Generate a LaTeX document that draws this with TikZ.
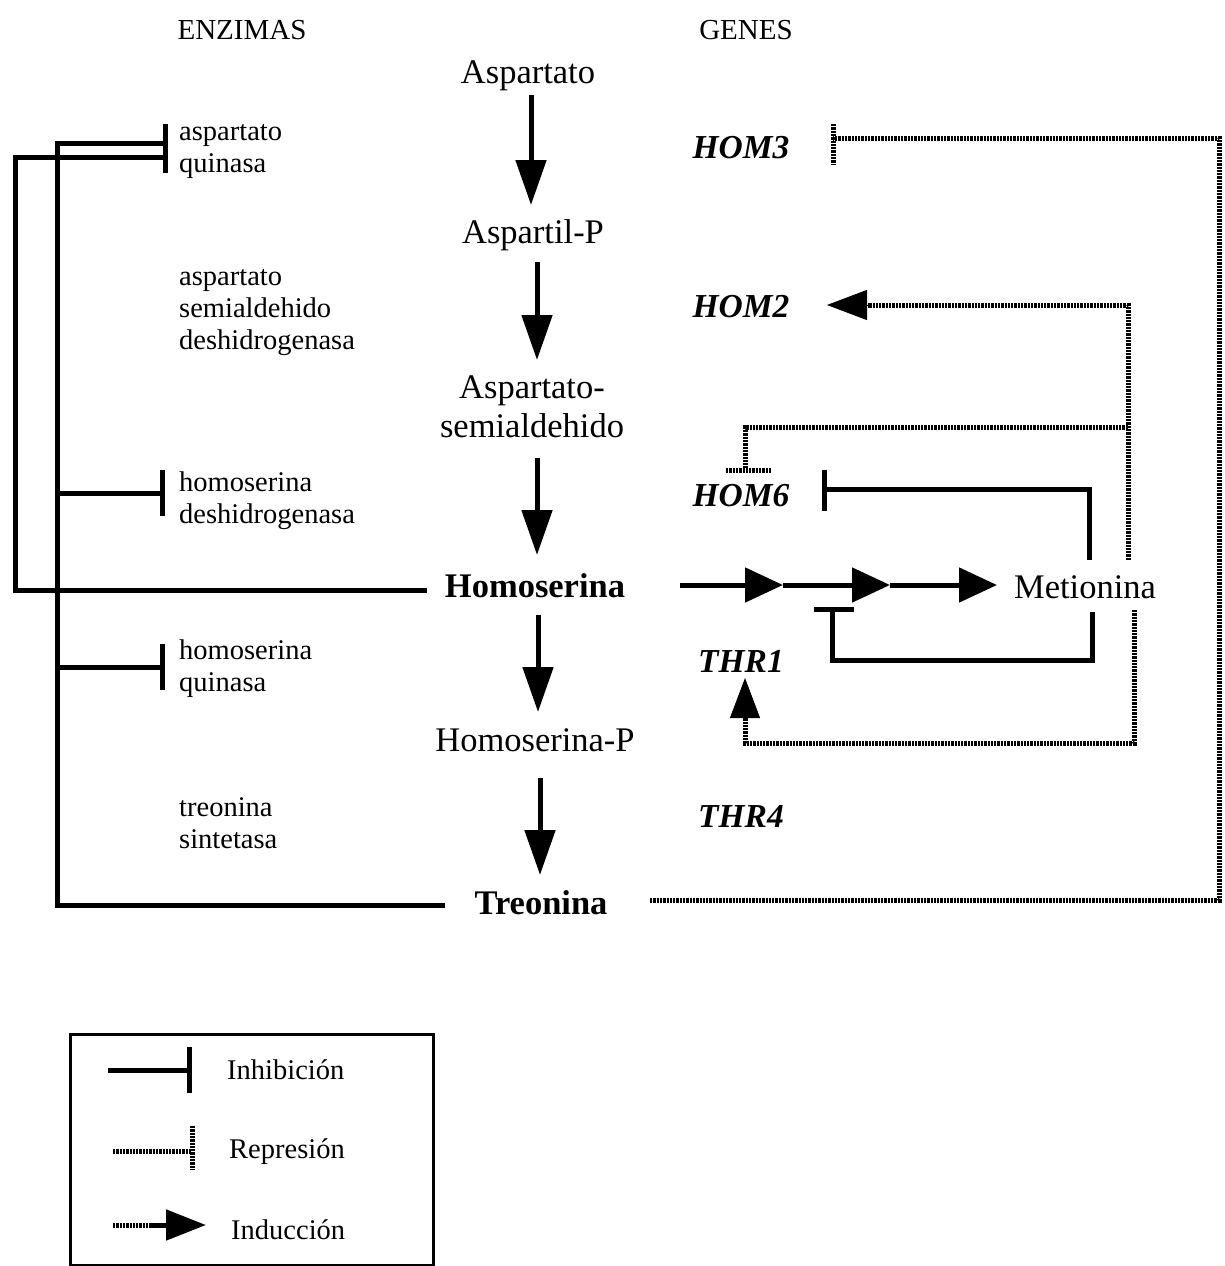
\documentclass[tikz,border=0pt]{standalone}
\usepackage{fontspec}
\setmainfont{Liberation Serif}
\usetikzlibrary{arrows.meta}
\begin{document}
\begin{tikzpicture}[x=1pt,y=-1pt,
  solid5/.style={line width=5pt},
  inhtip/.style={line width=5pt,-{Bar[width=46pt]}},
  rep/.style={line width=5pt,dash pattern=on 2.3pt off 1pt},
  flow/.style={line width=5pt,-{Triangle[length=45pt,width=30pt]}},
  chain/.style={line width=5pt,-{Triangle[length=38pt,width=34pt]}},
  indhead/.style={line width=1pt,-{Triangle[length=40pt,width=30pt]}},
  big/.style={font=\fontsize{34.5}{39}\selectfont,inner sep=0pt},
  bigb/.style={font=\fontsize{34.5}{39}\selectfont\bfseries,inner sep=0pt},
  gene/.style={font=\fontsize{33.5}{39}\selectfont\bfseries\itshape,inner sep=0pt},
  enz/.style={font=\fontsize{28.5}{32}\selectfont,inner sep=0pt,anchor=west,align=left},
  head/.style={font=\fontsize{29}{32}\selectfont,inner sep=0pt},
  leg/.style={font=\fontsize{28.5}{32}\selectfont,inner sep=0pt,anchor=west}]
\useasboundingbox (0,0) rectangle (1225,1266);

% headers
\node[head] (henz) at (242,30) {ENZIMAS};
\node[head] (hgen) at (746,30) {GENES};

% metabolites
\node[big] (asp) at (528,76) {Aspartato};
\node[big] (aspp) at (533,235) {Aspartil-P};
\node[big,align=center] (asa) at (532,407) {Aspartato-\\semialdehido};
\node[bigb] (hse) at (535,586) {Homoserina};
\node[big] (hsp) at (535,740) {Homoserina-P};
\node[bigb] (thr) at (541,903) {Treonina};
\node[big] (met) at (1085,587) {Metionina};

% enzymes
\node[enz] (e1) at (179,152) {aspartato\\quinasa};
\node[enz] (e2) at (179,313) {aspartato\\semialdehido\\deshidrogenasa};
\node[enz] (e3) at (179,501) {homoserina\\deshidrogenasa};
\node[enz] (e4) at (179,669) {homoserina\\quinasa};
\node[enz] (e5) at (179,823) {treonina\\sintetasa};

% genes
\node[gene] (hom3) at (741,148) {HOM3};
\node[gene] (hom2) at (741,307) {HOM2};
\node[gene] (hom6) at (741,496) {HOM6};
\node[gene] (thr1) at (741,661) {THR1};
\node[gene] (thr4) at (741,816) {THR4};

% main pathway arrows
\coordinate (v1a) at (531,95);  \coordinate (v1b) at (531,205);
\coordinate (v2a) at (537,262); \coordinate (v2b) at (537,360);
\coordinate (v3a) at (537,458); \coordinate (v3b) at (537,555);
\coordinate (v4a) at (538,615); \coordinate (v4b) at (538,712);
\coordinate (v5a) at (540,778); \coordinate (v5b) at (540,875);
\draw[flow] (v1a) -- (v1b);
\draw[flow] (v2a) -- (v2b);
\draw[flow] (v3a) -- (v3b);
\draw[flow] (v4a) -- (v4b);
\draw[flow] (v5a) -- (v5b);

% left inhibition lines
\coordinate (hseL) at (427,590);
\coordinate (thrL) at (445,905);
\coordinate (aqa) at (165,157);
\coordinate (aqb) at (165,143);
\coordinate (aqbar1) at (165,124);
\coordinate (aqbar2) at (165,173);
\draw[solid5] (hseL) -- (15,590) |- (aqa);
\draw[solid5] (thrL) -- (57,905) |- (aqb);
\draw[solid5] (aqbar1) -- (aqbar2);
\coordinate (hdhbar) at (165,493);
\coordinate (hkbar) at (165,667);
\draw[inhtip] (57,493) -- (hdhbar);
\draw[inhtip] (57,667) -- (hkbar);

% homoserina -> metionina chain
\coordinate (c0) at (680,585);
\coordinate (c1) at (783,585);
\coordinate (c2) at (890,585);
\coordinate (c3) at (997,585);
\draw[chain] (c0) -- (c1);
\draw[chain] (c1) -- (c2);
\draw[chain] (c2) -- (c3);

% Treonina repression of HOM3
\coordinate (thrR) at (650,900);
\coordinate (hom3end) at (833,138);
\draw[rep] (thrR) -- (1219,900) |- (hom3end);
\draw[rep] (833,124) -- (833,164);

% Metionina induction of HOM2
\coordinate (metN) at (1128,560);
\coordinate (hom2tail) at (868,305);
\coordinate (hom2tip) at (827,305);
\draw[rep] (metN) |- (hom2tail);
\draw[indhead,fill] (hom2tail) -- (hom2tip);

% Metionina repression of HOM6
\coordinate (hom6rep) at (745,468);
\draw[rep] (1128,427) -| (hom6rep);
\draw[rep] (726,470) -- (771,470);

% Metionina inhibition of HOM6
\coordinate (metN2) at (1089,560);
\coordinate (hom6inh) at (824,489);
\draw[solid5] (metN2) |- (hom6inh);
\draw[solid5] (824,470) -- (824,511);

% Metionina inhibition of second step
\coordinate (metS) at (1092,612);
\coordinate (stepbar) at (832,609);
\draw[solid5] (metS) -- (1092,660) -| (stepbar);
\draw[solid5] (814,609) -- (854,609);

% Metionina induction of THR1
\coordinate (metS2) at (1134,610);
\coordinate (thr1tail) at (745,717);
\coordinate (thr1tip) at (745,678);
\draw[rep] (metS2) |- (745,743) -- (thr1tail);
\draw[indhead,fill] (thr1tail) -- (thr1tip);

% legend
\node[draw,line width=3pt,minimum width=363pt,minimum height=231pt,inner sep=0pt] (legbox) at (251.5,1149.5) {};
\coordinate (l1a) at (108,1070); \coordinate (l1b) at (192,1070);
\draw[inhtip] (l1a) -- (l1b);
\node[leg] (l1t) at (227,1070) {Inhibición};
\coordinate (l2a) at (113,1151); \coordinate (l2b) at (192,1151);
\draw[rep] (l2a) -- (l2b);
\draw[rep] (192,1126) -- (192,1169);
\node[leg] (l2t) at (229,1152) {Represión};
\coordinate (l3a) at (113,1225); \coordinate (l3m) at (155,1225); \coordinate (l3b) at (206,1225);
\draw[rep] (l3a) -- (l3m);
\draw[line width=5pt,-{Triangle[length=40pt,width=30pt]}] (152,1225) -- (l3b);
\node[leg] (l3t) at (231,1230) {Inducción};
\end{tikzpicture}
\end{document}
